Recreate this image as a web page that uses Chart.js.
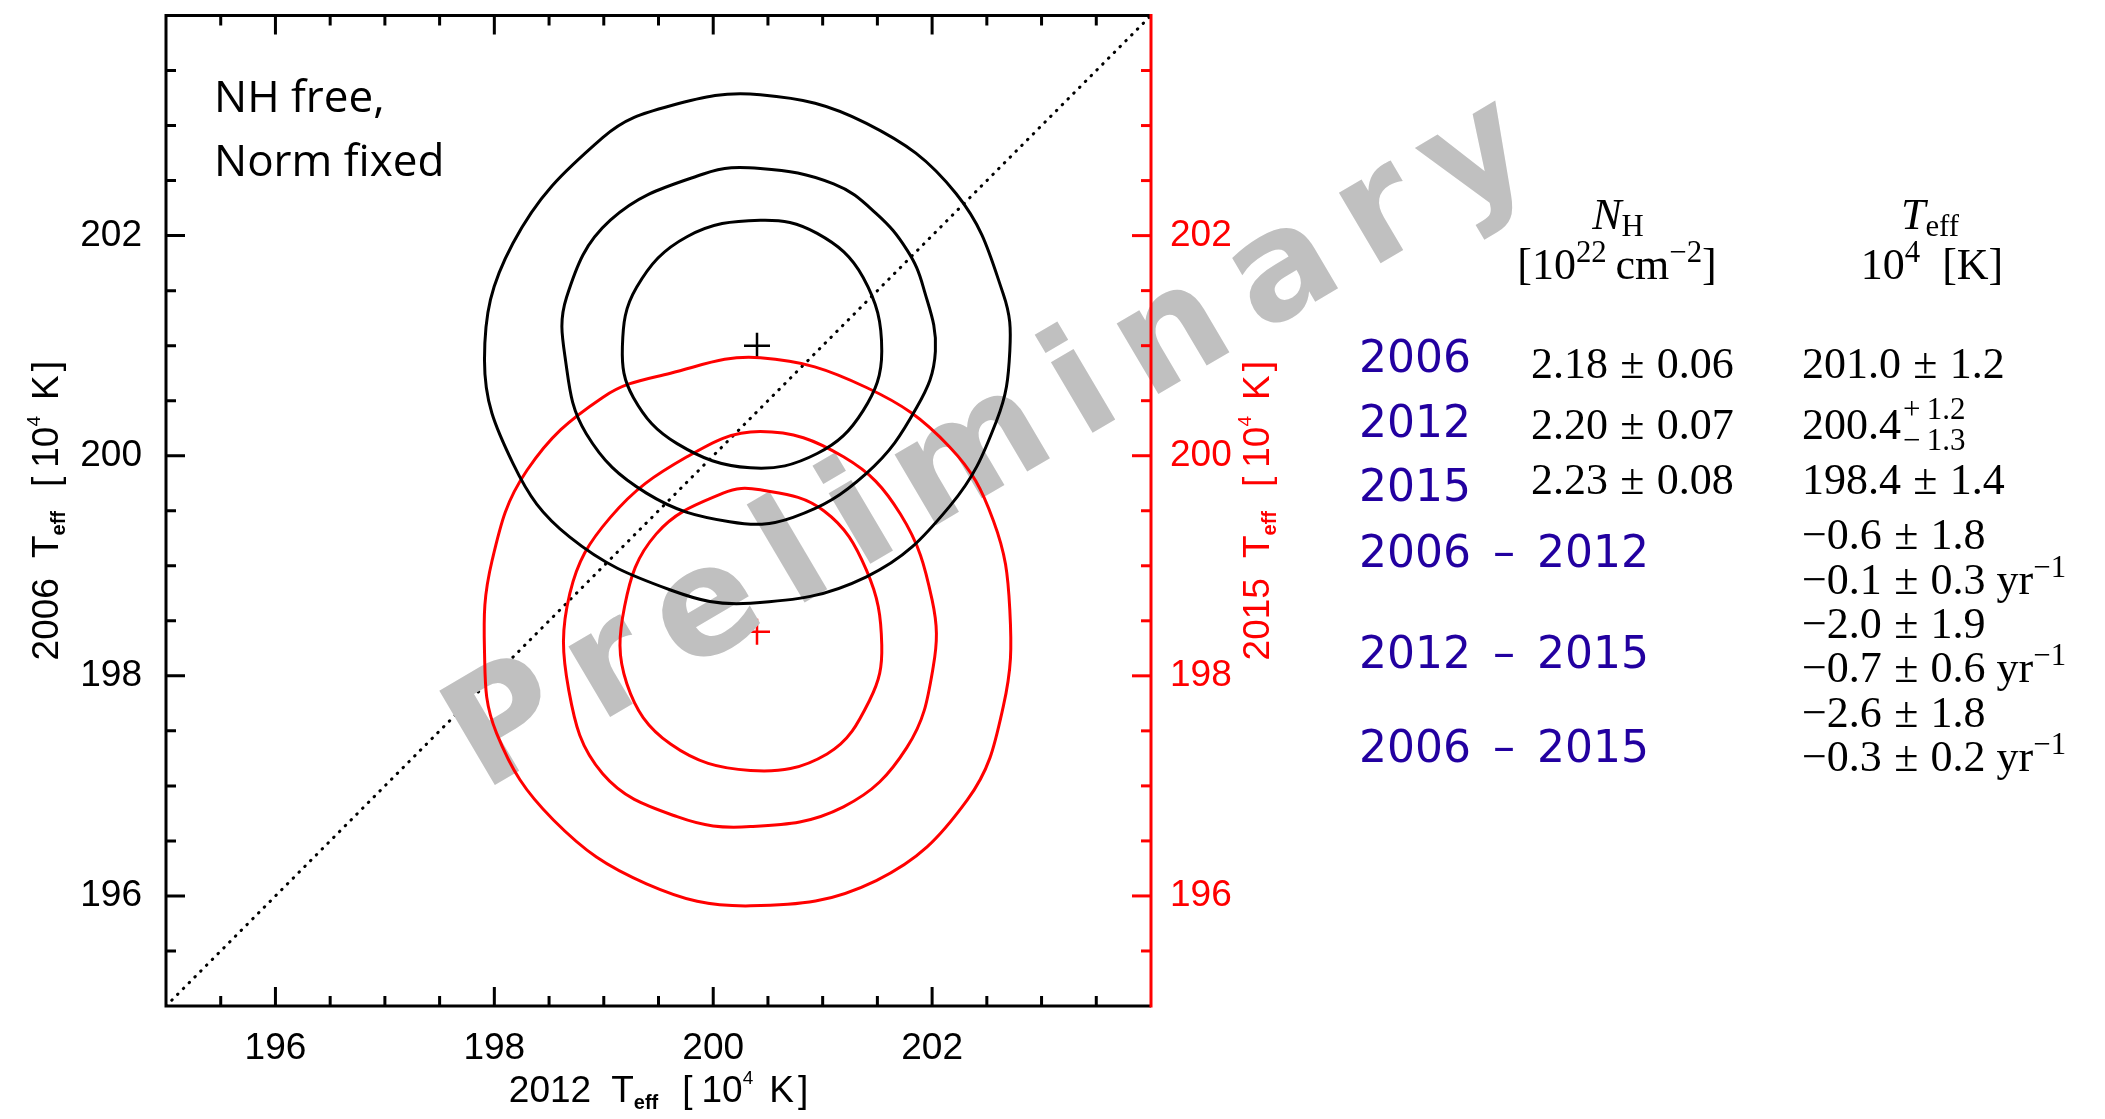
<!DOCTYPE html>
<html>
<head>
<meta charset="utf-8">
<script src="https://cdn.jsdelivr.net/npm/chart.js@4.4.0/dist/chart.umd.min.js"></script>
<style>
html, body { margin: 0; padding: 0; background: #fff; }
#wrap { position: relative; width: 2105px; height: 1119px; overflow: hidden; }
#chart { position: absolute; left: 0; top: 0; }
.t { position: absolute; white-space: nowrap; line-height: 1; }
.yr { font-family: 'DejaVu Sans'; font-size: 44px; color: #2200a0; }
.m { font-family: 'Liberation Serif'; font-size: 44px; color: #000; }
.pm { margin: 0 0.28em; }
.sup { position: relative; top: -0.55em; font-size: 0.7em; }
.sub { position: relative; top: 0.22em; font-size: 0.7em; }
.c { text-align: center; width: 600px; }
</style>
</head>
<body>
<div id="wrap"><canvas id="chart" width="2105" height="1119"></canvas></div>
<script>
// confidence contours: x = 2012 Teff, y = 2006 Teff (black) / 2015 Teff (red), in 10^4 K
const c06InnerX = [200.43,200.95,201.37,201.54,201.37,200.95,200.34,199.67,199.27,199.17,199.30,199.76];
const c06InnerY = [202.14,202.02,201.62,200.95,200.41,200.02,199.89,200.11,200.53,200.99,201.53,201.99];
const c06MidX = [200.43,201.10,201.49,201.77,201.92,202.03,201.86,201.40,200.73,200.15,199.39,198.84,198.65,198.66,199.06,199.91];
const c06MidY = [202.61,202.47,202.20,201.87,201.53,200.95,200.44,199.84,199.44,199.40,199.66,200.20,200.87,201.44,202.14,202.56];
const c06OuterX = [200.43,201.40,202.22,202.65,202.71,202.59,202.16,201.40,200.34,199.61,198.69,198.17,197.91,198.17,198.99,199.61];
const c06OuterY = [203.28,203.02,202.38,201.47,200.95,200.32,199.54,198.90,198.66,198.78,199.26,199.93,200.87,201.93,202.89,203.18];
const c15InnerX = [200.43,201.01,201.40,201.54,201.43,201.04,200.34,199.61,199.21,199.19,199.48,200.09];
const c15InnerY = [199.69,199.50,198.96,198.28,197.78,197.29,197.14,197.38,197.93,198.63,199.29,199.66];
const c15MidX = [200.43,201.19,201.71,202.00,202.01,201.77,201.19,200.34,199.67,198.99,198.68,198.69,199.06,199.76];
const c15MidY = [200.22,199.99,199.47,198.69,198.08,197.35,196.81,196.63,196.72,197.11,197.87,198.75,199.44,199.99];
const c15OuterX = [200.43,201.40,202.16,202.56,202.71,202.65,202.32,201.49,200.34,199.39,198.54,198.02,197.91,197.98,198.30,198.99,199.61];
const c15OuterY = [200.89,200.62,200.08,199.41,198.60,197.72,196.87,196.14,195.91,196.11,196.69,197.48,198.23,199.05,199.87,200.53,200.75];

// best fits
const best2012 = 200.4, best2006 = 201.0, best2015 = 198.4;
// 1:1 line
const diagX = [195, 204], diagY = [195, 204];

// axes
const axisMin = 195, axisMax = 204;
const majorTicks = [196, 198, 200, 202];
const minorTicks = [195.5, 196, 196.5, 197, 197.5, 198, 198.5, 199, 199.5, 200, 200.5, 201, 201.5, 202, 202.5, 203, 203.5];

// table
const rowLabels = ['2006', '2012', '2015', '2006\u2002\u2013\u20022012', '2012\u2002\u2013\u20022015', '2006\u2002\u2013\u20022015'];
const nhVal = [2.18, 2.20, 2.23];
const nhErr = [0.06, 0.07, 0.08];
const teffVal = [201.0, 200.4, 198.4];
const teffErrUp = [1.2, 1.2, 1.4];
const teffErrDn = [1.2, 1.3, 1.4];
const diffVal = [-0.6, -2.0, -2.6];
const diffErr = [1.8, 1.9, 1.8];
const rateVal = [-0.1, -0.7, -0.3];
const rateErr = [0.3, 0.6, 0.2];

const RED = '#ff0000';
const pts = (xs, ys) => xs.map((x, i) => ({x: x, y: ys[i]}));
// closed curve: wrap one point on each side so the join is smooth,
// the two helper segments at the ends are not stroked
const loop = (xs, ys) => {
  const p = pts(xs, ys);
  return [p[p.length - 1]].concat(p, [p[0], p[1]]);
};

function contour(xs, ys, color) {
  const data = loop(xs, ys);
  const last = data.length - 1;
  return {data: data, showLine: true, borderColor: color, borderWidth: 3, pointRadius: 0,
    tension: 0.4, order: 1, yAxisID: 'y',
    segment: {borderColor: c => (c.p0DataIndex === 0 || c.p1DataIndex === last) ? 'rgba(0,0,0,0)' : undefined}};
}

// rich text with sub/superscripts on the canvas
function drawRich(ctx, parts, x, y, rot, color) {
  const fonts = {n: '37px "Liberation Sans"', sub: 'bold 20px "Liberation Sans"', sup: '19px "Liberation Sans"'};
  const dy = {n: 0, sub: 7, sup: -18};
  ctx.save();
  ctx.translate(x, y);
  ctx.rotate(rot);
  ctx.fillStyle = color;
  ctx.textBaseline = 'alphabetic';
  ctx.textAlign = 'left';
  let w = 0;
  parts.forEach(p => {
    if (typeof p === 'number') { w += p; return; }
    ctx.font = fonts[p[1] || 'n'];
    w += ctx.measureText(p[0]).width;
  });
  let cx = -w / 2;
  parts.forEach(p => {
    if (typeof p === 'number') { cx += p; return; }
    const k = p[1] || 'n';
    ctx.font = fonts[k];
    ctx.fillText(p[0], cx, dy[k]);
    cx += ctx.measureText(p[0]).width;
  });
  ctx.restore();
}
const titleParts = yr => [[yr], 20, ['T'], ['eff', 'sub'], 24, ['['], 9, ['10'], ['4', 'sup'], 16, ['K'], 4, [']']];

const framePlugin = {
  id: 'frame',
  afterDatasetDraw(chart, args) {
    if (args.index !== 7) return;
    // watermark, under the contours
    const ctx = chart.ctx;
    ctx.save();
    ctx.translate(483, 792);
    ctx.rotate(-30.5 * Math.PI / 180);
    ctx.font = 'bold 150px "DejaVu Sans"';
    ctx.fillStyle = '#c0c0c0';
    ctx.textBaseline = 'alphabetic';
    let x = 0;
    for (const ch of 'Preliminary') {
      ctx.fillText(ch, x, 0);
      x += ctx.measureText(ch).width + 25;
    }
    ctx.restore();
  },
  afterDraw(chart) {
    const ctx = chart.ctx;
    const sx = chart.scales.x, sy = chart.scales.y, sy2 = chart.scales.y2;
    const a = chart.chartArea;
    ctx.save();
    ctx.lineWidth = 3;
    ctx.lineCap = 'butt';
    // ticks pointing inward
    minorTicks.forEach(v => {
      const len = majorTicks.includes(v) ? 19 : 10;
      const px = sx.getPixelForValue(v);
      const py = sy.getPixelForValue(v);
      const py2 = sy2.getPixelForValue(v);
      ctx.strokeStyle = '#000';
      ctx.beginPath();
      ctx.moveTo(px, a.bottom); ctx.lineTo(px, a.bottom - len);
      ctx.moveTo(px, a.top); ctx.lineTo(px, a.top + len);
      ctx.moveTo(a.left, py); ctx.lineTo(a.left + len, py);
      ctx.stroke();
      ctx.strokeStyle = RED;
      ctx.beginPath();
      ctx.moveTo(a.right, py2); ctx.lineTo(a.right - len, py2);
      ctx.stroke();
    });
    // spines
    ctx.strokeStyle = '#000';
    ctx.beginPath();
    ctx.moveTo(a.right, a.top); ctx.lineTo(a.left, a.top); ctx.lineTo(a.left, a.bottom); ctx.lineTo(a.right, a.bottom);
    ctx.stroke();
    ctx.strokeStyle = RED;
    ctx.beginPath();
    ctx.moveTo(a.right, a.top - 1.5); ctx.lineTo(a.right, a.bottom + 1.5);
    ctx.stroke();
    ctx.restore();

    // axis titles
    const cxm = (a.left + a.right) / 2, cym = (a.top + a.bottom) / 2;
    drawRich(ctx, titleParts('2012'), cxm, 1102, 0, '#000');
    drawRich(ctx, titleParts('2006'), 58, cym, -Math.PI / 2, '#000');
    drawRich(ctx, titleParts('2015'), 1269, cym, -Math.PI / 2, RED);

    // annotation
    ctx.save();
    ctx.font = '44px "Open Sans"';
    ctx.fillStyle = '#000';
    ctx.textBaseline = 'alphabetic';
    ctx.fillText('NH free,', 214, 112);
    ctx.fillText('Norm fixed', 214, 176);
    ctx.restore();
  }
};

const fixTicks = s => { s.ticks = majorTicks.map(v => ({value: v})); };
const noPad = w => s => {
  if (s.isHorizontal()) s.height = w; else s.width = w;
  s.paddingTop = 0; s.paddingBottom = 0; s.paddingLeft = 0; s.paddingRight = 0;
};
const tickFont = {family: 'Liberation Sans', size: 37};

new Chart(document.getElementById('chart'), {
  type: 'scatter',
  data: {
    datasets: [
      contour(c06InnerX, c06InnerY, '#000'),
      contour(c06MidX, c06MidY, '#000'),
      contour(c06OuterX, c06OuterY, '#000'),
      contour(c15InnerX, c15InnerY, RED),
      contour(c15MidX, c15MidY, RED),
      contour(c15OuterX, c15OuterY, RED),
      {data: [{x: best2012, y: best2006}], pointStyle: 'cross', pointRadius: 13, pointBorderWidth: 2.5,
        borderColor: '#000', backgroundColor: '#000', order: 3},
      {data: [{x: best2012, y: best2015}], pointStyle: 'cross', pointRadius: 13, pointBorderWidth: 2.5,
        borderColor: RED, backgroundColor: RED, order: 2},
      {data: pts(diagX, diagY), showLine: true, borderColor: '#000', borderWidth: 3,
        borderDash: [0.5, 7.7], borderCapStyle: 'round', pointRadius: 0, order: 4}
    ]
  },
  options: {
    responsive: false,
    animation: false,
    devicePixelRatio: 1,
    layout: {padding: {left: 0, top: 15, right: 844, bottom: 0}},
    plugins: {legend: {display: false}, tooltip: {enabled: false}},
    scales: {
      x: {
        type: 'linear', position: 'bottom', min: axisMin, max: axisMax,
        afterBuildTicks: fixTicks, afterFit: noPad(113),
        grid: {display: false}, border: {display: false},
        ticks: {font: tickFont, color: '#000', padding: 13, maxRotation: 0, autoSkip: false, callback: v => String(v)}
      },
      y: {
        type: 'linear', position: 'left', min: axisMin, max: axisMax,
        afterBuildTicks: fixTicks, afterFit: noPad(166),
        grid: {display: false}, border: {display: false},
        ticks: {font: tickFont, color: '#000', padding: 16, autoSkip: false, callback: v => String(v)}
      },
      y2: {
        type: 'linear', position: 'right', min: axisMin, max: axisMax,
        afterBuildTicks: fixTicks, afterFit: noPad(110),
        grid: {display: false}, border: {display: false},
        ticks: {font: tickFont, color: RED, padding: 11, autoSkip: false, callback: v => String(v)}
      }
    }
  },
  plugins: [framePlugin]
});

// results table
const wrap = document.getElementById('wrap');
const fmt = (v, d) => (v < 0 ? '\u2212' : '') + Math.abs(v).toFixed(d);
function put(html, cls, left, base, fs) {
  const d = document.createElement('div');
  d.className = 't ' + cls;
  d.style.left = left + 'px';
  d.style.top = (base - 0.84 * fs) + 'px';
  d.style.fontSize = fs + 'px';
  d.innerHTML = html;
  wrap.appendChild(d);
}
const pm = '<span class="pm">\u00b1</span>';
put('<i>N</i><span class="sub">H</span>', 'm c', 1618 - 300, 230, 44);
put('[10<span class="sup">22</span>&thinsp;cm<span class="sup">\u22122</span>]', 'm c', 1617 - 300, 280, 44);
put('<i>T</i><span class="sub">eff</span>', 'm c', 1930 - 300, 230, 44);
put('10<span class="sup">4</span>&nbsp;&nbsp;[K]', 'm c', 1932 - 300, 280, 44);

const yrBase = [372, 437, 501, 567, 668, 762];
rowLabels.forEach((s, i) => put(s, 'yr', 1359, yrBase[i], 44));
const rowBase = [379, 440, 495];
nhVal.forEach((v, i) => put(fmt(v, 2) + pm + fmt(nhErr[i], 2), 'm', 1531, rowBase[i], 44));
teffVal.forEach((v, i) => {
  if (teffErrUp[i] === teffErrDn[i]) {
    put(fmt(v, 1) + pm + fmt(teffErrUp[i], 1), 'm', 1802, rowBase[i], 44);
  } else {
    put(fmt(v, 1), 'm', 1802, rowBase[i], 44);
    put('+&thinsp;' + fmt(teffErrUp[i], 1), 'm', 1903, 419, 31);
    put('\u2212&thinsp;' + fmt(teffErrDn[i], 1), 'm', 1903, 450, 31);
  }
});
const diffBase = [550, 639, 728];
const rateBase = [595, 683, 772];
diffVal.forEach((v, i) => {
  put(fmt(v, 1) + pm + fmt(diffErr[i], 1), 'm', 1802, diffBase[i], 44);
  put(fmt(rateVal[i], 1) + pm + fmt(rateErr[i], 1) + '&nbsp;yr<span class="sup">\u22121</span>', 'm', 1802, rateBase[i], 44);
});
</script>
</body>
</html>
